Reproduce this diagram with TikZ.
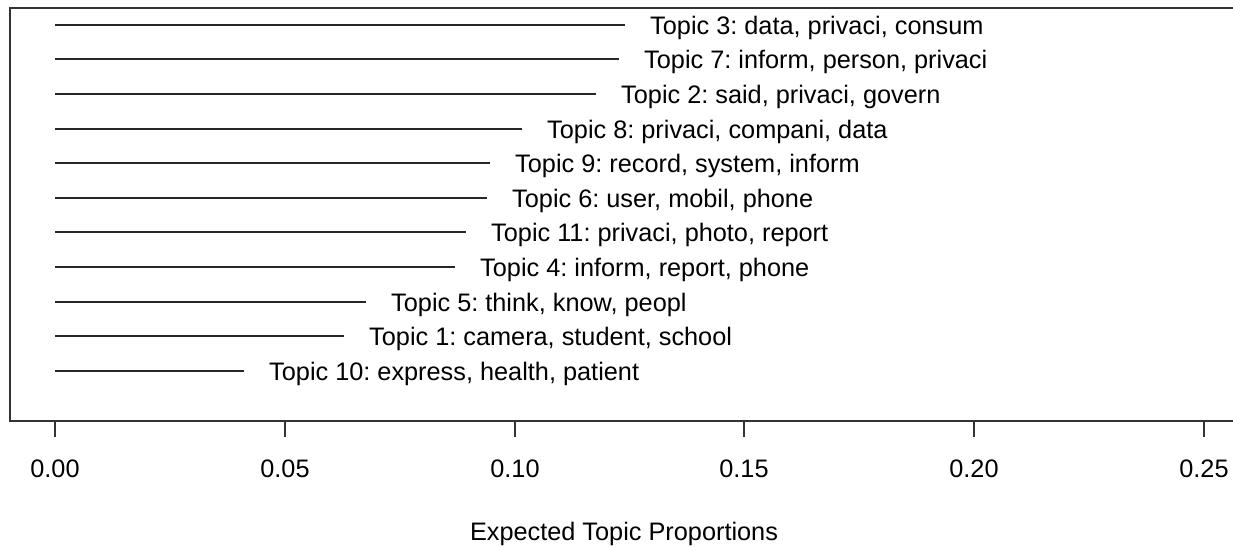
\documentclass[tikz,border=0pt]{standalone}
\usepackage{fontspec}
\setmainfont{Liberation Sans}
\begin{document}
\frenchspacing
\begin{tikzpicture}[x=1pt,y=-1pt,
  plotline/.style={line width=2pt,draw=black!85},
  axisline/.style={line width=2pt,draw=black!80},
  lbl/.style={anchor=base west,inner sep=0pt,font=\fontsize{25.3}{30}\selectfont},
  ticklbl/.style={anchor=base,inner sep=0pt,font=\fontsize{25.3}{30}\selectfont},
  ttl/.style={anchor=base,inner sep=0pt,font=\fontsize{25.3}{30}\selectfont}]
\useasboundingbox (0,0) rectangle (1233,546);
\clip (0,0) rectangle (1233,546);
\fill[white] (0,0) rectangle (1233,546);
% plot box (right edge lies outside the picture)
\draw[axisline] (1250,8) -- (10,8) -- (10,421) -- (1250,421);
% topic bars
\foreach \nm/\y/\xe/\txt in {
  3/25/625/{Topic 3: data, privaci, consum},
  7/59/619/{Topic 7: inform, person, privaci},
  2/94/596/{Topic 2: said, privaci, govern},
  8/129/522/{Topic 8: privaci, compani, data},
  9/163/490/{Topic 9: record, system, inform},
  6/198/487/{Topic 6: user, mobil, phone},
  11/232/466/{Topic 11: privaci, photo, report},
  4/267/455/{Topic 4: inform, report, phone},
  5/302/366/{Topic 5: think, know, peopl},
  1/336/344/{Topic 1: camera, student, school},
  10/371/244/{Topic 10: express, health, patient}}{
  \coordinate (s\nm) at (55,\y);
  \coordinate (e\nm) at (\xe,\y);
  \draw[plotline] (s\nm) -- (e\nm);
  \node[lbl] (t\nm) at (\xe+25,\y+9) {\txt};
}
% x axis ticks
\foreach \k/\xt/\lab in {0/55/0.00,1/285/0.05,2/515/0.10,3/744/0.15,4/974/0.20,5/1204/0.25}{
  \coordinate (ta\k) at (\xt,421);
  \coordinate (tb\k) at (\xt,437);
  \draw[axisline] (ta\k) -- (tb\k);
  \node[ticklbl] (tl\k) at (\xt,477) {\lab};
}
\node[ttl] (xtitle) at (624,540) {Expected Topic Proportions};
\end{tikzpicture}
\end{document}
